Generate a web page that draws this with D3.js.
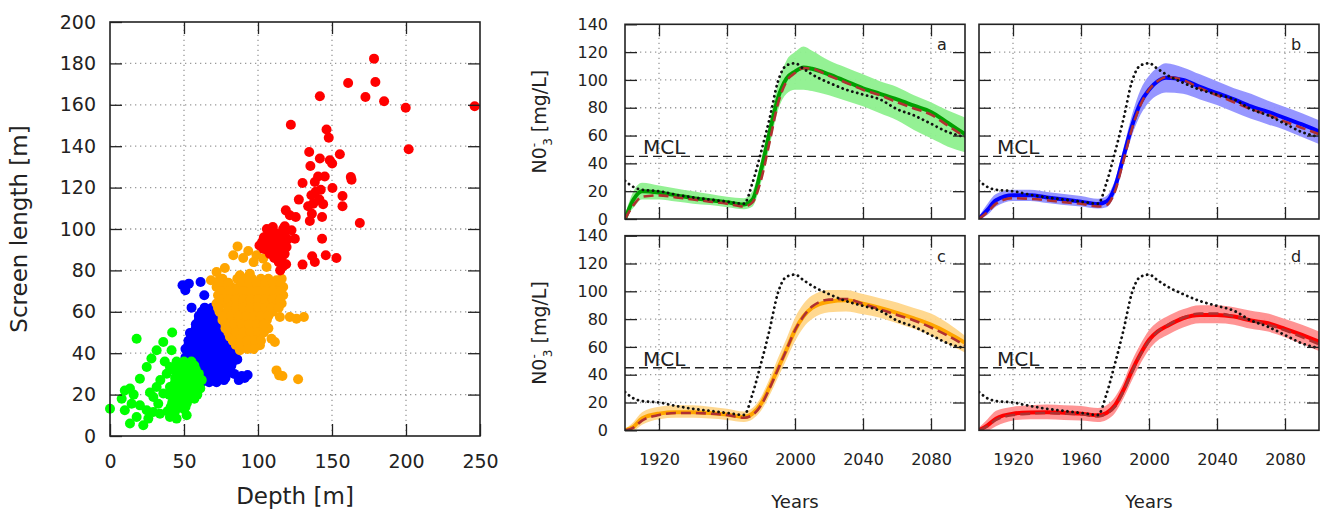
<!DOCTYPE html>
<html><head><meta charset="utf-8">
<script src="https://cdn.jsdelivr.net/npm/d3@7"></script>
<style>body{margin:0;background:#fff}svg{display:block;font-family:"DejaVu Sans",sans-serif}</style>
</head><body><svg id="c" width="1322" height="512"></svg>
<script>
// ---------- DATA ----------
const scatterXTicks=[0,50,100,150,200,250];
const scatterYTicks=[0,20,40,60,80,100,120,140,160,180,200];
const yearTicks=[1920,1960,2000,2040,2080];
const concTicks=[0,20,40,60,80,100,120,140];
const mcl=45;

const greenPts=[[0,13.2],[18,47],[42,50],[36,45.4],[31.5,41.4],[28,37.4],[24.8,33.3],[20.2,27.7],[13.5,22.9],[10,22],[7.9,18],[14.6,15.6],[10,12.4],[13.5,6],[18,9.2],[22.5,5.2],[25.9,8.4],[29.3,11.6],[32.6,15.6],[29.3,18.8],[36,20.5],[31.5,23.7],[40.5,9.2],[45,8.4],[51.8,10],[40.5,23.7],[40.5,33.3],[41.6,41.4],[38.3,30.1],[24.8,12.4],[33.8,10.8],[42.8,17.2],[20.2,14.8],[34,27],[37,36],[16,20],[27,21],[48,14],
[45,36],[50,36],[55,36],[43,32],[48,32],[53,32],[58,32],[44,28],[49,28],[54,28],[59,28],[62,27],[42,24],[47,24],[52,24],[57,24],[61,23],[40,20],[45,20],[50,20],[55,20],[59,20],[42,16],[47,16],[52,16],[39,12],[44,12],[50,13],
[47,34],[52,34],[57,34],[46,30],[51,30],[56,30],[60,30],[44,26],[49,26],[54,26],[59,26],[44,22],[49,22],[54,22],[58,22],[43,18],[48,18],[53,18],[57,18],[41,14],[46,14],[51,14]];

const bluePts=[[49,72.8],[53.3,73.6],[50.9,70.4],[61.2,74.4],[63.7,68],[55.1,62],[61.9,59.1],[54,49.8],[51,72],
[64,62],[69,62],[60,58],[65,58],[71,58],[58,54],[63,54],[68,54],[73,54],[56,50],[61,50],[66,50],[71,50],[76,50],[53,46],[58,46],[63,46],[68,46],[73,46],[78,46],[51,42],[56,42],[61,42],[66,42],[71,42],[76,42],[81,42],[84,40],[51,38],[56,38],[61,38],[66,38],[71,38],[76,38],[81,38],[86,37],[57,34],[62,34],[67,34],[72,34],[77,34],[82,34],[59,30],[64,30],[69,30],[74,30],[79,30],[84,30],[89,29],[93,29.5],[87,27],[62,26],[67,26],[72,26],[77,27],
[62,60],[67,60],[60,56],[65,56],[70,56],[58,52],[63,52],[68,52],[73,52],[55,48],[60,48],[65,48],[70,48],[75,48],[53,44],[58,44],[63,44],[68,44],[73,44],[78,44],[82,44],[53,40],[58,40],[63,40],[68,40],[73,40],[78,40],[83,40],[58,36],[63,36],[68,36],[73,36],[78,36],[83,36],[61,32],[66,32],[71,32],[76,32],[81,32],[63,28],[68,28],[73,28],[78,28],[88,28],[91,28]];

const orangePts=[[86.2,91.6],[83.3,87.3],[93.4,89.4],[99,87.3],[103.5,85.7],[105.8,81.6],[77.6,81.2],[72,79.2],[68.2,75.2],[74.3,76],[87.8,77.6],[94.5,78.4],[112.5,75.2],[117,72],[110.3,65.5],[114.8,57.5],[121.5,57.5],[126,56.7],[131,57.5],[111.4,45.4],[109.1,47],[112.5,31.7],[114.3,29.3],[116.5,29],[127.1,27.4],[101.3,43.8],[87.8,41.4],[97,84],[90,86],
[76,76],[86,76],[91,76],[96,76],[102,76],[107,76],[116,76],
[72,72],[77,72],[82,72],[87,72],[92,72],[97,72],[102,72],[107,72],[112,72],
[73,68],[78,68],[83,68],[88,68],[93,68],[98,68],[103,68],[108,68],[113,68],[117,68],
[72,64],[77,64],[82,64],[87,64],[92,64],[97,64],[102,64],[107,64],[112,64],[116,64],
[74,60],[79,60],[84,60],[89,60],[94,60],[99,60],[104,60],[110,60],
[76,56],[81,56],[86,56],[91,56],[96,56],[101,56],[106,56],
[78,52],[83,52],[88,52],[93,52],[98,52],[103,52],[107,52],
[81,48],[86,48],[91,48],[96,48],[101,48],
[85,44],[90,44],[95,44],[100,44],
[74,74],[80,74],[89,74],[94,74],[99,74],[105,74],[110,74],[115,74],
[75,70],[80,70],[85,70],[90,70],[95,70],[100,70],[105,70],[110,70],[115,70],
[75,66],[80,66],[85,66],[90,66],[95,66],[100,66],[105,66],[110,66],[115,66],
[73,62],[80,62],[85,62],[90,62],[95,62],[100,62],[105,62],[109,62],[114,62],
[76,58],[82,58],[87,58],[92,58],[97,58],[102,58],[107,58],
[78,54],[84,54],[89,54],[94,54],[99,54],[104,54],
[80,50],[85,50],[90,50],[95,50],[100,50],[104,50],
[83,46],[88,46],[93,46],[98,46],[102,46],
[88,42],[93,42],[97,42]];

const redPts=[[178.4,182.3],[160.9,170.5],[179.3,171],[172.6,163.8],[185.2,161.7],[141.8,164.1],[199.8,158.6],[246.4,159.3],[201.8,138.5],[122.2,150.4],[146.3,148.1],[147.8,144.1],[134.6,137.2],[155.3,136.1],[135.4,130.4],[141.8,134.1],[148.5,133.2],[150.1,131.6],[130.1,122.2],[138.4,122.7],[145.1,125.4],[140.6,125.4],[162.7,125.1],[163.2,123.8],[142.4,119],[150.3,119.8],[136.1,116.3],[141.5,114.2],[157.1,115.9],[157.1,111],[127.6,114.2],[133.9,111],[137.3,112.2],[135,103.9],[136.4,107.4],[143.3,105.8],[168.8,102.9],[118.8,109],[121.5,106.6],[125.5,105.8],[118.1,101.3],[122.6,99.4],[124.9,95.3],[143.3,95.3],[130.1,82.8],[136.6,86.8],[138.4,84.1],[145.8,87.3],[153,86],[139,118],[144,112],
[106,100],[110,101],[117,100],[104,96],[109,96],[114,96],[120,95],[101,92],[106,92],[111,92],[116,92],[108,88],[113,88],[118,88],[114,84],[119,83],[115,80],[103.6,90.5],[119.3,91.3],
[107,98],[112,98],[118,98],[103,94],[108,94],[113,94],[118,94],[106,90],[111,90],[116,90],[111,86],[116,86],[117,82]];

const years=[1900,1905,1910,1920,1930,1940,1950,1960,1970,1975,1980,1985,1990,1995,2000,2005,2010,2020,2030,2040,2050,2060,2070,2080,2090,2100];
const dotted=[27.5,23,21,20,17.5,15.5,14,12.5,11,26,48,72,99,110.5,112,108,104,98,93,89.5,86,79,74.5,68.5,62.5,59];

const aSolid=[0,14,20,19,17,15,13.5,12,10.5,14,35,62,87,101,106,109,108,104,99,94,90,86,81.5,77,69,61];
const aDash =[0,10,16,17,15.5,14,12.5,11,9,12,28,55,83,99,105,108.5,108,103,98,93,89,84,79.5,75,67,59];
const aUpper=[3,20,26,24,22,20,18,16,15,20,42,70,97,114,120,124,121,114,109,104,99,95,89,84,78,73];
const aLower=[0,8,14,14,12.5,11,10,8.5,7,9,26,52,78,90,93,93,92,89,85,81,76,71,64,58,52,48];

const bSolid=[0,6.5,13.5,17,17,15.5,14,12.5,10.8,12.5,23,45,67,83.5,93,99,101.5,100,95,90.5,86,81,77,72.6,68,63];
const bDash =[0,5,11,15,14.5,13.5,12,11,9,10,20,42,65,82,93,99,102,100,94,89,84,79,75,70,65.5,61];
const bUpper=[2,11,18,21,21,19.5,18,16.5,14.5,16.5,28,51,75,93,103,109,112,109,104,99,94,90,85,80.5,76,71];
const bLower=[0,3,9,13,13,11.5,10,9,7.5,8.5,18,39,60,75,84,89,91,90,86,82,77,72,68,64,59,54];

const cSolid=[0,2.5,8.5,12,13,13,12.5,11.3,9.6,12,19,31,44.5,58,72,82,88,92.5,93.5,91,88,84.5,80.5,76,70,63];
const cDash =[0,2,7,11,12.5,12.5,12,11,9,11,18,30,44,58,72,82,89,94,94.5,91,87,83,79,74,68,61];
const cUpper=[1,6,13,17,18,18,17,15.5,13.5,16,24,37,52,66,81,91,97,101,101,98,95,92,88,84,77,68];
const cLower=[0,0,4,8,9,9,8.5,7.5,6,8,14,25,38,51,64,74,80,85,85.5,83.5,81,77,73,68,62,56];

const dSolid=[0,3.6,8.4,12,12.8,13,12.6,12,10.8,12.5,18,29,43,55,65,71,74.6,80.6,83,83,81.8,79,77,73,68.6,63.7];
const dDash =[0,3,7.5,11,12,12.5,12,11.5,10,12,17,28,42,54.5,64,71,75,81,84,84,82,79,76,72,67,62];
const dUpper=[2,8,14,17,18,18.5,18,17.5,16,18,24,35,50,62,72,78,81.5,87,90,90,88.5,86,84,80,76,71];
const dLower=[0,0,3,7,8,8,7.5,7,6,7.5,12.5,23,36,48,58,64.5,68,74,77,77,76,73,71,67,62,57];

const panelNames=["a","b","c","d"];

// ---------- DRAW ----------
const svg=d3.select("#c");
const FONT='"DejaVu Sans", sans-serif';
const gridStyle=s=>s.attr("stroke","#999").attr("stroke-width",1.3).attr("stroke-dasharray","1.3,3.7");

// Scatter
const sx=d3.scaleLinear().domain([0,250]).range([110,480]);
const sy=d3.scaleLinear().domain([0,200]).range([436,22]);
const gS=svg.append("g");
gS.append("g").selectAll("line").data(scatterXTicks.filter(d=>d>0&&d<250)).join("line")
  .attr("x1",d=>sx(d)).attr("x2",d=>sx(d)).attr("y1",sy(0)).attr("y2",sy(200)).call(gridStyle);
gS.append("g").selectAll("line").data(scatterYTicks.filter(d=>d>0&&d<200)).join("line")
  .attr("y1",d=>sy(d)).attr("y2",d=>sy(d)).attr("x1",sx(0)).attr("x2",sx(250)).call(gridStyle);
[[bluePts,"#0000ff"],[greenPts,"#00ff00"],[orangePts,"#ffa500"],[redPts,"#ff0000"]].forEach(([pts,col])=>{
  gS.append("g").selectAll("circle").data(pts).join("circle")
    .attr("cx",d=>sx(d[0])).attr("cy",d=>sy(d[1])).attr("r",5).attr("fill",col);
});
function styleAxis(g,fs){
  g.attr("font-family",FONT).attr("font-size",fs);
  g.select(".domain").remove();
  g.selectAll(".tick line").attr("stroke","#222").attr("stroke-width",1.3);
  g.selectAll(".tick text").attr("fill","#222");
}
gS.append("g").attr("transform",`translate(${sx(0)},0)`)
  .call(d3.axisLeft(sy).tickValues(scatterYTicks).tickSize(-12).tickPadding(14)).call(g=>styleAxis(g,19));
gS.append("g").attr("transform",`translate(${sx(250)},0)`)
  .call(d3.axisRight(sy).tickValues(scatterYTicks.filter(d=>d>0&&d<200)).tickSize(-12).tickFormat("")).call(g=>styleAxis(g,19));
gS.append("g").attr("transform",`translate(0,${sy(0)})`)
  .call(d3.axisBottom(sx).tickValues(scatterXTicks).tickSize(-12).tickPadding(19)).call(g=>styleAxis(g,19));
gS.append("g").attr("transform",`translate(0,${sy(200)})`)
  .call(d3.axisTop(sx).tickValues(scatterXTicks.filter(d=>d>0&&d<250)).tickSize(-12).tickFormat("")).call(g=>styleAxis(g,19));
gS.append("rect").attr("x",sx(0)).attr("y",sy(200)).attr("width",sx(250)-sx(0)).attr("height",sy(0)-sy(200))
  .attr("fill","none").attr("stroke","#222").attr("stroke-width",1.6);
gS.append("text").attr("x",(sx(0)+sx(250))/2).attr("y",504).attr("text-anchor","middle")
  .attr("font-size",23).attr("fill","#222").text("Depth [m]");
gS.append("text").attr("transform",`translate(27,229) rotate(-90)`).attr("text-anchor","middle")
  .attr("font-size",23).attr("fill","#222").text("Screen length [m]");

// Time-series panels
const panels=[
  {x0:625,x1:965,y0:24.3,y1:219,solid:aSolid,dash:aDash,up:aUpper,lo:aLower,line:"#00a000",band:"#8ef08e",yl:true,xl:false},
  {x0:979,x1:1319,y0:24.3,y1:219,solid:bSolid,dash:bDash,up:bUpper,lo:bLower,line:"#0000ff",band:"#9090ff",yl:false,xl:false},
  {x0:625,x1:965,y0:235.7,y1:430.3,solid:cSolid,dash:cDash,up:cUpper,lo:cLower,line:"#ffa500",band:"#ffd68a",yl:true,xl:true},
  {x0:979,x1:1319,y0:235.7,y1:430.3,solid:dSolid,dash:dDash,up:dUpper,lo:dLower,line:"#ff0000",band:"#ff8e8e",yl:false,xl:true}
];
panels.forEach((p,i)=>{
  const x=d3.scaleLinear().domain([1900,2100]).range([p.x0,p.x1]);
  const y=d3.scaleLinear().domain([0,140]).range([p.y1,p.y0]);
  const g=svg.append("g");
  const clipId="clip"+i;
  g.append("clipPath").attr("id",clipId).append("rect").attr("x",p.x0).attr("y",p.y0).attr("width",p.x1-p.x0).attr("height",p.y1-p.y0);
  g.append("g").selectAll("line").data(yearTicks).join("line")
    .attr("x1",d=>x(d)).attr("x2",d=>x(d)).attr("y1",p.y1).attr("y2",p.y0).call(gridStyle);
  g.append("g").selectAll("line").data(concTicks.filter(d=>d>0&&d<140)).join("line")
    .attr("y1",d=>y(d)).attr("y2",d=>y(d)).attr("x1",p.x0).attr("x2",p.x1).call(gridStyle);
  g.append("line").attr("x1",p.x0).attr("x2",p.x1).attr("y1",y(mcl)).attr("y2",y(mcl))
    .attr("stroke","#222").attr("stroke-width",1.4).attr("stroke-dasharray","9,5");
  g.append("text").attr("x",p.x0+18).attr("y",y(mcl)-2).attr("font-size",20).attr("fill","#222").text("MCL");
  const idx=years.map((d,k)=>k);
  const cg=g.append("g").attr("clip-path",`url(#${clipId})`);
  cg.append("path").datum(idx).attr("fill",p.band).attr("opacity",0.95)
    .attr("d",d3.area().curve(d3.curveMonotoneX).x(k=>x(years[k])).y0(k=>y(p.lo[k])).y1(k=>y(p.up[k])));
  cg.append("path").datum(idx).attr("fill","none").attr("stroke",p.line).attr("stroke-width",4)
    .attr("d",d3.line().curve(d3.curveMonotoneX).x(k=>x(years[k])).y(k=>y(p.solid[k])));
  cg.append("path").datum(idx).attr("fill","none").attr("stroke","#b03030").attr("stroke-width",2.6).attr("stroke-dasharray","10,5")
    .attr("d",d3.line().curve(d3.curveMonotoneX).x(k=>x(years[k])).y(k=>y(p.dash[k])));
  cg.append("path").datum(idx).attr("fill","none").attr("stroke","#111").attr("stroke-width",2.8)
    .attr("stroke-linecap","round").attr("stroke-dasharray","0.1,5")
    .attr("d",d3.line().curve(d3.curveMonotoneX).x(k=>x(years[k])).y(k=>y(dotted[k])));
  // axes
  g.append("g").attr("transform",`translate(${p.x0},0)`)
    .call(d3.axisLeft(y).tickValues(p.yl?concTicks:concTicks.filter(d=>d>0&&d<140)).tickSize(-12).tickPadding(17).tickFormat(p.yl?d3.format("d"):""))
    .call(a=>styleAxis(a,16));
  g.append("g").attr("transform",`translate(${p.x1},0)`)
    .call(d3.axisRight(y).tickValues(concTicks.filter(d=>d>0&&d<140)).tickSize(-12).tickFormat(""))
    .call(a=>styleAxis(a,16));
  g.append("g").attr("transform",`translate(0,${p.y1})`)
    .call(d3.axisBottom(x).tickValues(yearTicks).tickSize(-12).tickPadding(23).tickFormat(p.xl?d3.format("d"):""))
    .call(a=>styleAxis(a,16));
  g.append("g").attr("transform",`translate(0,${p.y0})`)
    .call(d3.axisTop(x).tickValues(yearTicks).tickSize(-12).tickFormat(""))
    .call(a=>styleAxis(a,16));
  g.append("rect").attr("x",p.x0).attr("y",p.y0).attr("width",p.x1-p.x0).attr("height",p.y1-p.y0)
    .attr("fill","none").attr("stroke","#222").attr("stroke-width",1.6);
  g.append("text").attr("x",p.x1-28).attr("y",p.y0+26).attr("font-size",16).attr("fill","#222").text(panelNames[i]);
  if(p.yl){
    const t=g.append("text").attr("transform",`translate(546,${(p.y0+p.y1)/2}) rotate(-90)`).attr("text-anchor","middle")
      .attr("font-size",19).attr("fill","#222");
    t.append("tspan").text("N0");
    t.append("tspan").attr("font-size",12).attr("dy",-8).text("-");
    t.append("tspan").attr("font-size",12).attr("dx",-3).attr("dy",14).text("3");
    t.append("tspan").attr("dy",-6).text(" [mg/L]");
  }
  if(p.xl){
    g.append("text").attr("x",(p.x0+p.x1)/2).attr("y",508).attr("text-anchor","middle")
      .attr("font-size",18).attr("fill","#222").text("Years");
  }
});
</script></body></html>
